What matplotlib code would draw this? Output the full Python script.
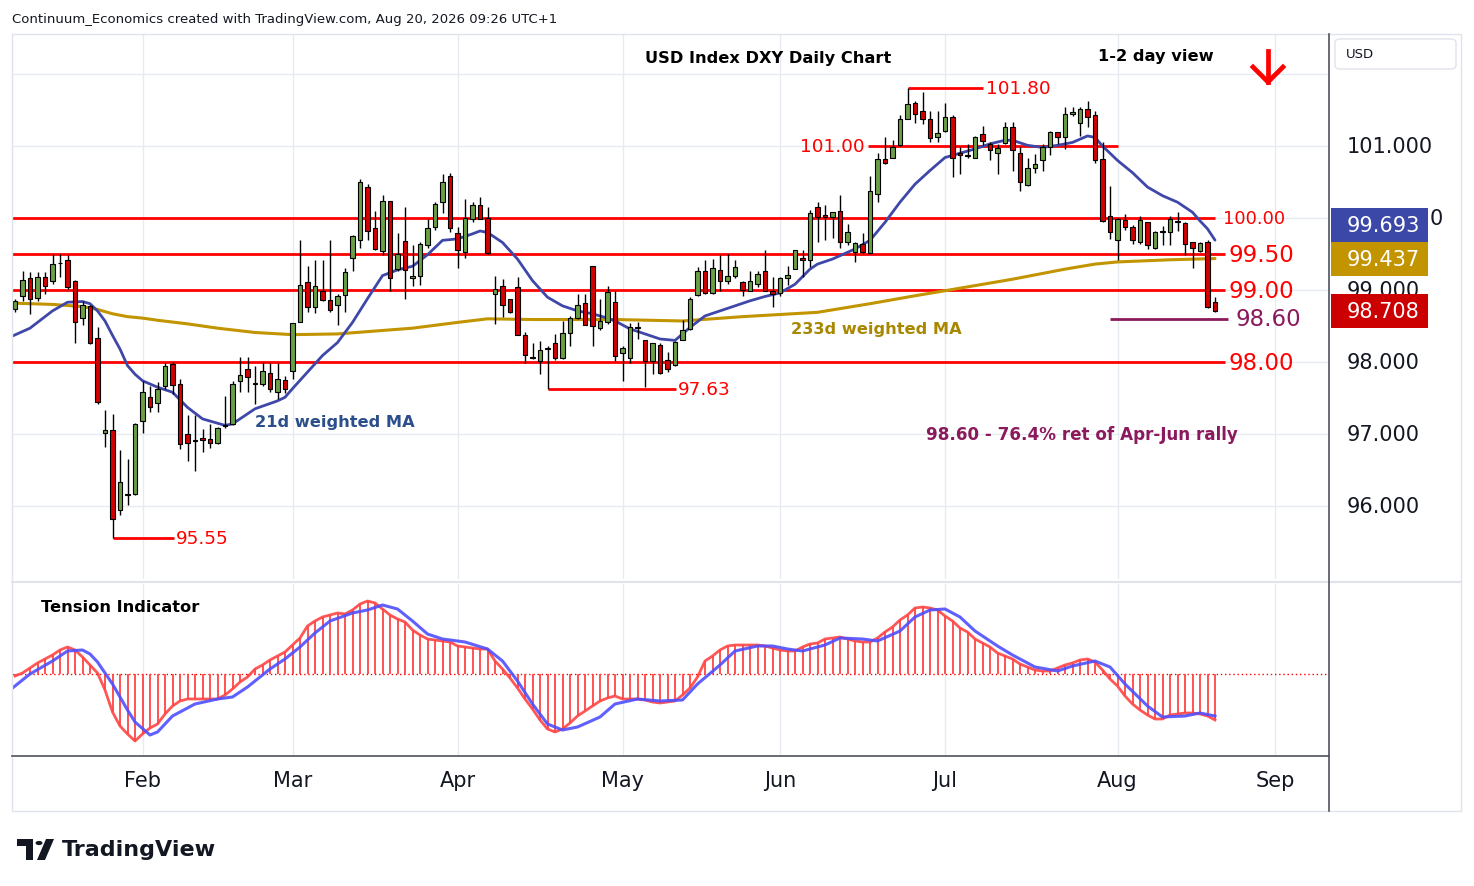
import matplotlib
matplotlib.use('Agg')
import matplotlib.pyplot as plt
from matplotlib.patches import Rectangle, FancyBboxPatch, Circle, Polygon
from matplotlib.lines import Line2D
from matplotlib.transforms import blended_transform_factory
import numpy as np
import pandas as pd

W, H = 1474, 887

# ---- data (DXY daily, 8 Jan - 20 Aug 2026) ----
opens = [98.74, 98.91, 99.16, 98.89, 99.18, 99.12, 99.37, 99.42, 99.13, 98.61,
         98.78, 98.33, 97.02, 97.05, 95.95, 96.15, 96.17, 97.18, 97.51, 97.43,
         97.66, 97.97, 97.69, 97.00, 96.90, 96.95, 96.93, 96.88, 97.11, 97.14,
         97.74, 97.90, 97.69, 97.69, 97.85, 97.59, 97.75, 97.87, 98.56, 99.11,
         98.77, 98.99, 98.86, 98.79, 98.93, 99.45, 99.69, 100.43, 99.86, 99.54,
         100.23, 99.29, 99.68, 99.17, 99.19, 99.62, 99.87, 100.22, 100.58, 99.79,
         99.53, 99.99, 100.18, 100.00, 98.94, 99.05, 98.87, 99.04, 98.38, 98.06,
         98.01, 98.18, 98.27, 98.05, 98.40, 98.61, 98.82, 99.33, 98.47, 98.55,
         98.84, 98.13, 98.05, 98.47, 98.30, 98.02, 98.24, 98.03, 97.96, 98.31,
         98.46, 98.93, 99.27, 98.96, 99.28, 99.12, 99.19, 99.11, 98.99, 99.08,
         99.26, 98.99, 98.96, 99.16, 99.29, 99.45, 99.42, 100.15, 100.04, 100.02,
         100.10, 99.66, 99.53, 99.64, 99.52, 100.33, 100.82, 100.84, 101.01, 101.38,
         101.60, 101.49, 101.37, 101.12, 101.21, 101.40, 100.91, 100.86, 100.84, 101.17,
         101.03, 100.91, 101.04, 101.27, 100.91, 100.46, 100.70, 100.80, 100.98, 101.19,
         101.12, 101.44, 101.32, 101.52, 101.43, 100.82, 100.03, 99.69, 99.97, 99.87,
         99.66, 99.94, 99.58, 99.81, 99.80, 99.95, 99.93, 99.66, 99.54, 99.67,
         98.83]
highs = [98.88, 99.27, 99.25, 99.25, 99.25, 99.50, 99.50, 99.48, 99.14, 98.85,
         98.79, 98.48, 97.33, 97.28, 96.78, 96.65, 97.15, 97.74, 97.67, 97.72,
         97.99, 98.00, 97.76, 97.26, 97.26, 97.07, 97.14, 97.10, 97.53, 97.74,
         98.07, 98.07, 97.95, 98.00, 97.99, 97.98, 97.81, 98.54, 99.69, 99.34,
         99.42, 99.42, 99.69, 98.95, 99.31, 99.76, 100.54, 100.47, 100.10, 100.32,
         100.23, 99.79, 100.15, 99.63, 99.66, 99.99, 100.22, 100.61, 100.63, 99.88,
         100.27, 100.22, 100.29, 100.15, 99.19, 99.15, 98.87, 99.18, 98.41, 98.27,
         98.29, 98.22, 98.39, 98.57, 98.64, 98.94, 98.94, 99.34, 98.88, 99.06,
         98.99, 98.22, 98.54, 98.56, 98.30, 98.27, 98.27, 98.14, 98.29, 98.59,
         98.90, 99.32, 99.42, 99.43, 99.49, 99.50, 99.42, 99.13, 99.26, 99.26,
         99.55, 99.18, 99.18, 99.34, 99.55, 99.55, 100.11, 100.22, 100.18, 100.08,
         100.32, 99.92, 99.66, 99.79, 100.59, 100.91, 101.12, 101.09, 101.43, 101.80,
         101.63, 101.75, 101.49, 101.49, 101.60, 101.43, 100.98, 101.03, 101.14, 101.28,
         101.05, 101.03, 101.34, 101.33, 100.98, 100.83, 100.89, 101.03, 101.21, 101.19,
         101.54, 101.54, 101.54, 101.63, 101.49, 101.06, 100.45, 100.00, 100.06, 99.90,
         100.03, 99.95, 99.82, 99.89, 100.03, 100.08, 99.95, 99.66, 99.66, 99.69,
         98.90]
lows = [98.69, 98.85, 98.67, 98.85, 98.94, 99.08, 99.18, 99.02, 98.26, 98.51,
        98.25, 97.42, 96.82, 95.55, 95.87, 96.01, 96.15, 97.01, 97.30, 97.31,
        97.63, 97.56, 96.79, 96.62, 96.49, 96.75, 96.80, 96.86, 97.09, 97.12,
        97.59, 97.59, 97.42, 97.67, 97.58, 97.49, 97.57, 97.77, 98.55, 98.70,
        98.68, 98.85, 98.70, 98.51, 98.70, 99.26, 99.59, 99.69, 99.55, 99.48,
        98.98, 99.26, 98.88, 99.06, 99.07, 99.59, 99.84, 100.07, 99.81, 99.30,
        99.45, 99.95, 99.98, 99.50, 98.53, 98.63, 98.68, 98.37, 97.98, 98.04,
        97.84, 97.63, 98.03, 98.04, 98.22, 98.60, 98.51, 98.22, 98.45, 98.53,
        98.02, 97.73, 97.99, 98.32, 97.65, 97.83, 97.83, 97.86, 97.95, 98.30,
        98.45, 98.92, 98.95, 98.95, 98.98, 99.08, 99.17, 98.92, 98.98, 99.04,
        98.98, 98.76, 98.92, 99.07, 99.29, 99.18, 99.32, 99.66, 99.69, 99.72,
        99.59, 99.62, 99.39, 99.52, 99.51, 100.22, 100.75, 100.84, 101.00, 101.37,
        101.32, 101.31, 101.05, 101.06, 101.19, 100.57, 100.61, 100.84, 100.83, 101.01,
        100.80, 100.61, 101.03, 100.66, 100.37, 100.45, 100.63, 100.66, 100.88, 101.03,
        100.96, 101.42, 101.14, 101.27, 100.76, 99.95, 99.71, 99.42, 99.84, 99.64,
        99.64, 99.57, 99.57, 99.62, 99.62, 99.82, 99.49, 99.30, 99.53, 98.75,
        98.70]
closes = [98.85, 99.14, 98.88, 99.18, 99.05, 99.36, 99.38, 99.04, 98.55, 98.79,
          98.26, 97.44, 97.06, 95.82, 96.33, 96.16, 97.14, 97.59, 97.37, 97.63,
          97.95, 97.68, 96.86, 96.88, 96.91, 96.91, 96.87, 97.09, 97.12, 97.69,
          97.82, 97.79, 97.70, 97.87, 97.63, 97.77, 97.63, 98.54, 99.07, 98.77,
          99.05, 98.86, 98.72, 98.92, 99.25, 99.75, 100.50, 99.82, 99.57, 100.23,
          99.17, 99.50, 99.28, 99.19, 99.64, 99.86, 100.19, 100.50, 99.86, 99.55,
          100.00, 100.18, 99.99, 99.51, 99.01, 98.79, 98.69, 98.38, 98.10, 98.06,
          98.17, 98.20, 98.05, 98.40, 98.61, 98.79, 98.51, 98.50, 98.57, 98.97,
          98.08, 98.20, 98.48, 98.48, 98.02, 98.26, 97.85, 97.90, 98.28, 98.45,
          98.88, 99.26, 98.96, 99.30, 99.13, 99.19, 99.32, 99.00, 99.13, 99.22,
          98.99, 98.94, 99.17, 99.21, 99.55, 99.42, 100.07, 100.01, 100.01, 100.08,
          99.67, 99.80, 99.65, 99.53, 100.38, 100.82, 100.76, 100.98, 101.38, 101.58,
          101.44, 101.38, 101.11, 101.18, 101.41, 100.84, 100.87, 100.86, 101.12, 101.07,
          100.94, 100.97, 101.27, 100.94, 100.50, 100.70, 100.75, 100.98, 101.19, 101.13,
          101.44, 101.47, 101.51, 101.40, 100.80, 99.96, 99.80, 99.99, 99.87, 99.69,
          99.97, 99.62, 99.80, 99.82, 99.99, 99.95, 99.64, 99.58, 99.65, 98.76,
          98.708]

# 21d weighted MA, read at sample sessions
ma21_idx = [-1, 2, 5, 7, 9, 10, 11, 12, 13, 14, 15, 16, 17, 19, 21, 23, 25, 26, 28, 29,
            32, 35, 36, 37, 39, 41, 43, 45, 47, 49, 51, 53, 55, 57, 59, 61, 62, 63, 65, 67,
            69, 71, 73, 75, 77, 79, 80, 82, 84, 86, 88, 90, 92, 94, 96, 98, 100, 102, 104, 106,
            107, 109, 112, 114, 116, 118, 120, 122, 124, 126, 128, 130, 132, 133, 135, 137, 139, 141, 143, 144,
            145, 147, 149, 151, 153, 155, 157, 158, 159, 160]
ma21_val = [98.33, 98.47, 98.71, 98.83, 98.84, 98.81, 98.71, 98.57, 98.37, 98.18, 97.95, 97.83, 97.74, 97.65, 97.58, 97.37, 97.21, 97.18, 97.12, 97.14,
            97.35, 97.46, 97.51, 97.63, 97.86, 98.09, 98.27, 98.55, 98.88, 99.20, 99.28, 99.33, 99.49, 99.69, 99.71, 99.78, 99.82, 99.80, 99.66, 99.43,
            99.13, 98.90, 98.78, 98.71, 98.67, 98.61, 98.57, 98.46, 98.39, 98.32, 98.30, 98.48, 98.64, 98.71, 98.78, 98.85, 98.91, 98.96, 99.08, 99.29,
            99.36, 99.43, 99.57, 99.69, 99.94, 100.22, 100.47, 100.66, 100.84, 100.90, 100.96, 101.03, 101.08, 101.08, 101.01, 100.98, 101.01, 101.05, 101.14, 101.12,
            101.00, 100.80, 100.63, 100.43, 100.31, 100.22, 100.08, 99.96, 99.85, 99.693]

# 233d weighted MA
ma233_idx = [-1, 5, 9, 11, 13, 15, 17, 19, 23, 27, 32, 37, 43, 48, 53, 59, 63, 69, 80, 89,
             97, 102, 107, 114, 120, 124, 133, 140, 144, 147, 154, 160]
ma233_val = [98.82, 98.80, 98.77, 98.73, 98.67, 98.63, 98.61, 98.58, 98.53, 98.47, 98.41, 98.38, 98.39, 98.43, 98.47, 98.55, 98.60, 98.59, 98.59, 98.57,
             98.63, 98.66, 98.69, 98.81, 98.92, 98.99, 99.15, 99.29, 99.36, 99.39, 99.42, 99.437]

# Tension indicator (arbitrary units, 0 = neutral)
tension_red = [-2, 1, 6, 11, 15, 19, 24, 27, 24, 17, 9, 1, -16, -38, -52, -60, -67, -60, -54, -50,
               -40, -32, -27, -25, -25, -25, -25, -25, -21, -15, -8, -3, 5, 9, 14, 18, 22, 29, 36, 48,
               53, 57, 59, 61, 60, 64, 70, 73, 71, 65, 59, 55, 52, 44, 39, 35, 34, 33, 32, 28,
               27, 26, 25, 25, 13, 5, -4, -14, -25, -35, -46, -55, -58, -55, -49, -42, -37, -32, -27, -24,
               -22, -25, -25, -25, -26, -28, -29, -28, -27, -21, -14, -3, 13, 18, 24, 28, 29, 29, 29, 29,
               28, 26, 24, 23, 23, 27, 30, 31, 35, 36, 37, 35, 33, 32, 32, 36, 42, 47, 54, 59,
               66, 67, 66, 64, 58, 53, 46, 42, 35, 31, 27, 21, 18, 15, 10, 7, 4, 3, 3, 6,
               9, 11, 14, 15, 12, 4, -5, -12, -22, -30, -36, -41, -45, -45, -41, -40, -39, -39, -40, -42,
               -46]
tension_blue_idx = [-1, 2, 5, 7, 9, 10, 11, 13, 15, 16, 18, 19, 21, 24, 27, 29, 31, 34, 36, 38,
                    40, 42, 45, 47, 49, 51, 53, 55, 57, 60, 63, 65, 67, 69, 71, 73, 75, 78, 80, 83,
                    86, 89, 91, 94, 96, 99, 101, 103, 105, 108, 110, 113, 115, 118, 120, 122, 124, 126, 128, 131,
                    133, 136, 139, 141, 144, 146, 148, 151, 153, 156, 158, 160]
tension_blue_val = [-18, 0, 13, 23, 24, 20, 12, -10, -36, -48, -61, -58, -42, -30, -25, -23, -13, 5, 15, 27,
                    41, 53, 61, 64, 69, 65, 53, 40, 35, 32, 25, 13, -7, -30, -50, -56, -53, -43, -30, -25,
                    -27, -26, -10, 9, 23, 28, 28, 25, 23, 29, 36, 35, 33, 43, 57, 64, 65, 57, 43, 28,
                    19, 7, 3, 8, 13, 7, -10, -32, -43, -42, -39, -42]

month_labels = ['Feb', 'Mar', 'Apr', 'May', 'Jun', 'Jul', 'Aug', 'Sep']
levels = [100.0, 99.5, 99.0, 98.0]
level_labels = ['100.00', '99.50', '99.00', '98.00']
axis_ticks = [101.0, 99.0, 98.0, 97.0, 96.0]   # 100.000 is hidden behind the MA tag

# ---- session index / months ----
dates = pd.bdate_range('2026-01-08', '2026-08-20')
idx = np.arange(len(dates))
month_pos = [i for i in range(1, len(dates)) if dates[i].month != dates[i - 1].month]
month_pos.append(len(dates) + len(pd.bdate_range('2026-08-21', '2026-08-31')))

plt.rcParams['font.family'] = ['DejaVu Sans']

fig = plt.figure(figsize=(W / 100, H / 100), dpi=100)
fig.patch.set_facecolor('white')


def fx(px):
    return px / W


def fy(py):
    return 1 - py / H


ax = fig.add_axes([fx(12), fy(580), fx(1329) - fx(12), fy(35) - fy(580)])
ax2 = fig.add_axes([fx(12), fy(757), fx(1329) - fx(12), fy(585) - fy(757)], sharex=ax)

xmin = -0.4
xmax = xmin + 1317 / 7.5
ax.set_xlim(xmin, xmax)
ax.set_ylim(94.986, 102.556)
ax2.set_ylim(-82, 90)

grid_c = '#e6ebf2'
for a in (ax, ax2):
    a.set_facecolor('white')
    for s in a.spines.values():
        s.set_visible(False)
    a.tick_params(left=False, bottom=False, labelleft=False, labelbottom=False)
    for m in month_pos:
        a.axvline(m, color=grid_c, lw=1, zorder=0)
for t in axis_ticks + [100.0, 102.0]:
    ax.axhline(t, color=grid_c, lw=1, zorder=0)

# ---- candles ----
o, hi, lo, c = map(np.array, (opens, highs, lows, closes))
up = c >= o
ax.vlines(idx, lo, hi, color='black', lw=1, zorder=3)
ax.bar(idx, np.maximum(np.abs(c - o), 0.012), bottom=np.minimum(o, c), width=0.66,
       color=np.where(up, '#6a9f45', '#d20000'), edgecolor='black', linewidth=0.8, zorder=4)

# moving averages
ax.plot(ma233_idx, ma233_val, color='#c29400', lw=2.2, zorder=2, solid_capstyle='round')
ax.plot(ma21_idx, ma21_val, color='#3f48a8', lw=2.0, zorder=2, solid_capstyle='round')

# ---- levels ----
red = '#ff0000'
ax.hlines(levels[0], xmin, 160, color=red, lw=2, zorder=1)
ax.text(161, levels[0], level_labels[0], color=red, fontsize=13, va='center', ha='left')
for lv, lb in zip(levels[1:], level_labels[1:]):
    ax.hlines(lv, xmin, 161.3, color=red, lw=2, zorder=1)
    ax.text(161.8, lv, lb, color=red, fontsize=16.5, va='center', ha='left')

ax.hlines(101.80, 119, 129.1, color=red, lw=2, zorder=1)
ax.text(129.5, 101.80, '101.80', color=red, fontsize=13.3, va='center', ha='left')
ax.hlines(101.00, 113.7, 147, color=red, lw=2, zorder=1)
ax.text(113.3, 101.00, '101.00', color=red, fontsize=13.3, va='center', ha='right')
ax.hlines(97.63, 71, 88.1, color=red, lw=2, zorder=1)
ax.text(88.4, 97.63, '97.63', color=red, fontsize=13.3, va='center', ha='left')
ax.hlines(95.55, 13, 21.2, color=red, lw=2, zorder=1)
ax.text(21.5, 95.55, '95.55', color=red, fontsize=13.3, va='center', ha='left')
plum = '#8b1a5c'
ax.hlines(98.60, 146, 161.7, color=plum, lw=2, zorder=1)
ax.text(162.7, 98.60, '98.60', color=plum, fontsize=16.5, va='center', ha='left')

ax.text(32, 97.18, '21d weighted MA', color='#2c4f8c', fontsize=11.7, fontweight='bold',
        va='center', ha='left')
ax.text(103.4, 98.46, '233d weighted MA', color='#a88800', fontsize=11.7, fontweight='bold',
        va='center', ha='left')
ax.text(121.5, 97.0, '98.60 - 76.4% ret of Apr-Jun rally', color=plum, fontsize=12.1,
        fontweight='bold', va='center', ha='left')

fig.text(fx(645), fy(58), 'USD Index DXY Daily Chart', fontsize=11.7, fontweight='bold',
         va='center', ha='left')
fig.text(fx(1098), fy(56), '1-2 day view', fontsize=11.7, fontweight='bold', va='center', ha='left')
fig.add_artist(Line2D([fx(1268), fx(1268)], [fy(52), fy(83)], color=red, lw=3.4))
fig.add_artist(Line2D([fx(1253), fx(1268), fx(1283)], [fy(68), fy(83), fy(68)], color=red, lw=3.4,
                      solid_joinstyle='miter'))

# ---- tension indicator ----
tr = np.array(tension_red)
ax2.axhline(0, color=red, lw=1, ls=(0, (1, 2)), zorder=1)
ax2.vlines(idx, 0, tr, color='#ff4444', lw=1.3, zorder=2)
ax2.plot(idx, tr, color='#ff4444', lw=2, alpha=0.9, zorder=3)
ax2.plot(tension_blue_idx, tension_blue_val, color='#4f4fff', lw=2.2, alpha=0.9, zorder=4)
fig.text(fx(41), fy(608), 'Tension Indicator', fontsize=11.7, fontweight='bold', va='center', ha='left')

# ---- frame / separators ----
fig.add_artist(Rectangle((fx(12), fy(812)), fx(1461) - fx(12), fy(35) - fy(812), fill=False,
                         edgecolor='#e0e3eb', lw=1))
fig.add_artist(Line2D([fx(12), fx(1461)], [fy(583), fy(583)], color='#e0e3eb', lw=1.5))
fig.add_artist(Line2D([fx(1329), fx(1329)], [fy(35), fy(812)], color='#50535e', lw=1.2))
fig.add_artist(Line2D([fx(12), fx(1329)], [fy(757), fy(757)], color='#50535e', lw=1.2))

# month labels
for m, lab in zip(month_pos, month_labels):
    px = 12 + (m - xmin) * 7.5
    fig.text(fx(px), fy(781), lab, fontsize=15, va='center', ha='center', color='#131722')

# ---- price scale ----
fig.canvas.draw()
tr_y = blended_transform_factory(fig.transFigure, ax.transData)
for t in axis_ticks:
    fig.text(fx(1347), t, f'{t:.3f}', transform=tr_y, fontsize=15, va='center', ha='left',
             color='#131722', zorder=1)
# last digit of the 100.000 label peeks out beside the MA tag
fig.text(fx(1443), 100.0, '0', transform=tr_y, fontsize=15, va='center', ha='right',
         color='#131722', zorder=1)


def price_py(v):
    return H - ax.transData.transform((0, v))[1]


tag_h = 34
gold_py = price_py(ma233_val[-1])
red_py = price_py(closes[-1])
blue_py = min(price_py(ma21_val[-1]), gold_py - tag_h)
for val, py, col in [(ma21_val[-1], blue_py, '#3c48a8'), (ma233_val[-1], gold_py, '#c29400'),
                     (closes[-1], red_py, '#cc0000')]:
    fig.add_artist(Rectangle((fx(1331), fy(py + tag_h / 2)), fx(1428) - fx(1331), tag_h / H,
                             facecolor=col, edgecolor='none', zorder=5))
    fig.text(fx(1383), fy(py), f'{val:.3f}', color='white', fontsize=15, va='center', ha='center',
             zorder=6)

fig.add_artist(FancyBboxPatch((fx(1335), fy(70)), fx(1456) - fx(1335), 30 / H,
                              boxstyle='round,pad=0,rounding_size=0.004', facecolor='white',
                              edgecolor='#e0e3eb', lw=1))
fig.text(fx(1346), fy(55), 'USD', fontsize=9.5, va='center', ha='left', color='#131722')

# header and logo
fig.text(fx(12), fy(19), 'Continuum_Economics created with TradingView.com, Aug 20, 2026 09:26 UTC+1',
         fontsize=9.5, va='center', ha='left', color='#131722')
fig.add_artist(Rectangle((fx(17), fy(847)), fx(33) - fx(17), 7 / H, facecolor='#131722'))
fig.add_artist(Rectangle((fx(26), fy(861)), fx(33) - fx(26), 21 / H, facecolor='#131722'))
fig.add_artist(Circle((fx(39), fy(844)), 3.5 / W, facecolor='#131722', transform=fig.transFigure))
fig.add_artist(Polygon([(fx(37), fy(861)), (fx(46), fy(840)), (fx(54), fy(840)), (fx(45), fy(861))],
                       closed=True, facecolor='#131722'))
fig.text(fx(62), fy(850), 'TradingView', fontsize=16, fontweight='bold', va='center', ha='left',
         color='#131722')

fig.savefig('out.png', dpi=100)
